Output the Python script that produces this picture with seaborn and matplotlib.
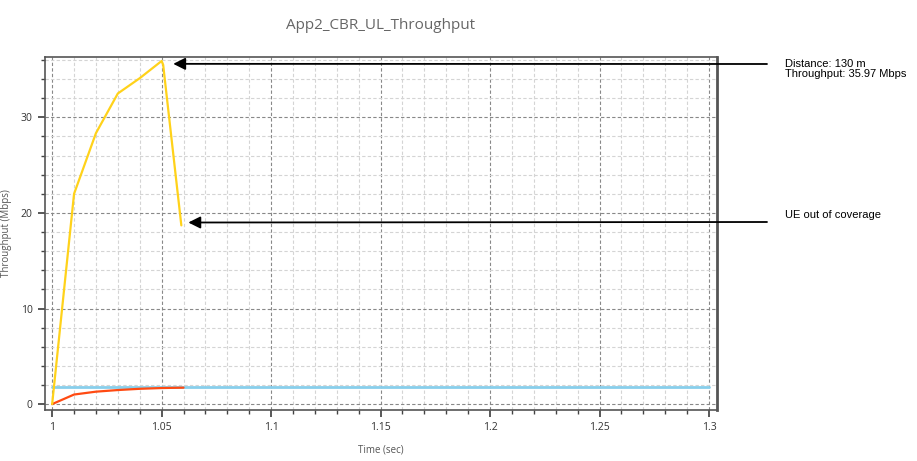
import matplotlib
matplotlib.use('Agg')
import matplotlib.pyplot as plt
import seaborn as sns
from matplotlib.ticker import MultipleLocator

sns.set_theme(style='white')
plt.rcParams['font.family'] = ['Open Sans', 'DejaVu Sans']

# Data
ue_time = [1.0, 1.01, 1.02, 1.03, 1.04, 1.05, 1.0507, 1.059]
ue_tput = [0.0, 22.0, 28.35, 32.5, 34.1, 35.9, 35.5, 18.7]

app_time = [1.0, 1.01, 1.02, 1.03, 1.04, 1.05, 1.06]
app_tput = [0.0, 1.0, 1.3, 1.47, 1.6, 1.68, 1.72]

gen_time = [1.0, 1.3]
gen_tput = [1.75, 1.75]

peak_label = 'Distance: 130 m\nThroughput: 35.97 Mbps'
peak_point = (1.0553, 35.6)
out_label = 'UE out of coverage'
out_point = (1.0622, 19.0)

x_ticks = [1, 1.05, 1.1, 1.15, 1.2, 1.25, 1.3]
x_tick_labels = ['1', '1.05', '1.1', '1.15', '1.2', '1.25', '1.3']
y_ticks = [0, 10, 20, 30]

fig = plt.figure(figsize=(9.17, 4.61), dpi=100)
ax = fig.add_axes([0.049, 0.111, 0.733, 0.765])

sns.lineplot(x=gen_time, y=gen_tput, ax=ax, color='#87CEEB', linewidth=2)
sns.lineplot(x=app_time, y=app_tput, ax=ax, color='#FF4A12', linewidth=1.6)
sns.lineplot(x=ue_time, y=ue_tput, ax=ax, color='#FFD21A', linewidth=1.6)

ax.set_xlim(0.9967, 1.3037)
ax.set_ylim(-0.6, 36.3)
ax.set_xticks(x_ticks)
ax.set_xticklabels(x_tick_labels)
ax.set_yticks(y_ticks)
ax.xaxis.set_minor_locator(MultipleLocator(0.01))
ax.yaxis.set_minor_locator(MultipleLocator(2))

ax.grid(which='major', color='#888888', linestyle=(0, (3, 2)), linewidth=0.8)
ax.grid(which='minor', color='#d4d4d4', linestyle=(0, (3, 2)), linewidth=0.8)
ax.tick_params(which='both', direction='out', color='#444444', bottom=True, left=True)
ax.tick_params(which='major', length=5, labelsize=7.5, labelcolor='#333333', pad=4)
ax.tick_params(which='minor', length=3)
for side in ['left', 'bottom', 'top']:
    ax.spines[side].set_color('#555555')
    ax.spines[side].set_linewidth(1.2)
ax.spines['right'].set_color('#555555')
ax.spines['right'].set_linewidth(2)

ax.set_xlabel('Time (sec)', fontsize=7, color='#555555', labelpad=8)
ax.set_ylabel('Throughput (Mbps)', fontsize=7, color='#555555', labelpad=6)
fig.text(0.415, 0.945, 'App2_CBR_UL_Throughput', ha='center', va='center',
         fontsize=11, color='#666666')

arrow_style = dict(arrowstyle='-|>', color='black', lw=1.3,
                   mutation_scale=18, shrinkA=0, shrinkB=0)
ax.annotate('', xy=peak_point, xytext=(767, 461 - 64), textcoords='figure pixels',
            arrowprops=arrow_style, annotation_clip=False)
ax.annotate('', xy=out_point, xytext=(767, 461 - 222), textcoords='figure pixels',
            arrowprops=arrow_style, annotation_clip=False)
fig.text(785 / 917, 1 - 69 / 461, peak_label, ha='left', va='center', fontsize=8,
         color='black', family=['Liberation Sans', 'DejaVu Sans'], linespacing=1.05)
fig.text(785 / 917, 1 - 215 / 461, out_label, ha='left', va='center', fontsize=8,
         color='black', family=['Liberation Sans', 'DejaVu Sans'])

fig.savefig('out.png', dpi=100)
